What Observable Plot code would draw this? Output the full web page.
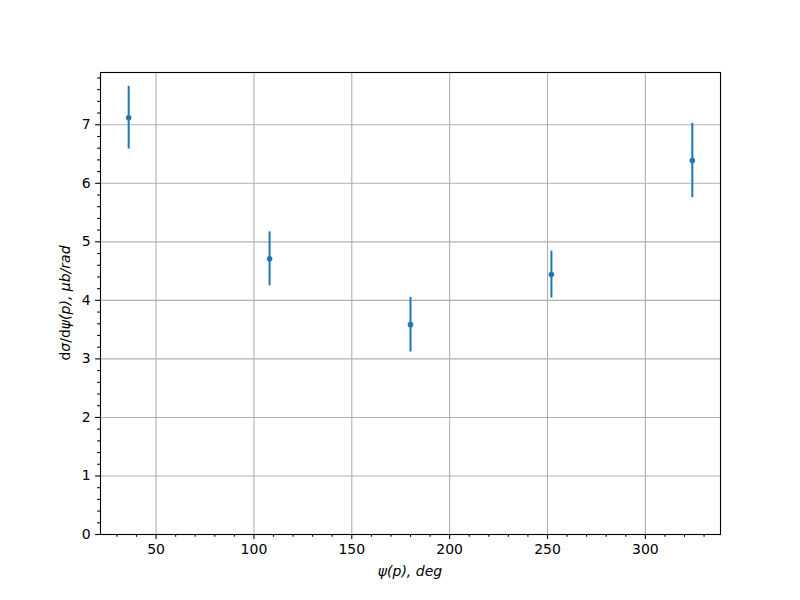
<!DOCTYPE html>
<html>
<head>
<meta charset="utf-8">
<script src="https://cdn.jsdelivr.net/npm/d3@7"></script>
<script src="https://cdn.jsdelivr.net/npm/@observablehq/plot@0.6"></script>
<style>
  body { margin: 0; background: #fff; }
  svg { font-family: "DejaVu Sans", sans-serif; }
</style>
</head>
<body>
<div id="chart"></div>
<script>
const psi = [36, 108, 180, 252, 324];
const sigma = [7.12, 4.71, 3.585, 4.44, 6.39];
const err = [0.535, 0.46, 0.467, 0.40, 0.635];
const xTicks = [50, 100, 150, 200, 250, 300];
const yTicks = [0, 1, 2, 3, 4, 5, 6, 7];

const data = psi.map((x, i) => ({x, y: sigma[i], lo: sigma[i] - err[i], hi: sigma[i] + err[i]}));
const xMinor = d3.range(30, 340, 10).filter(v => !xTicks.includes(v));
const yMinor = d3.range(0, 7.9, 0.2).map(v => +v.toFixed(1)).filter(v => !yTicks.includes(v));

const blue = "#1f77b4";
const plot = Plot.plot({
  width: 800,
  height: 600,
  marginLeft: 100,
  marginRight: 80,
  marginTop: 72,
  marginBottom: 66,
  style: {fontFamily: "DejaVu Sans, sans-serif", fontSize: "14px", color: "#000", background: "#fff"},
  x: {domain: [21.6, 338.4], label: null},
  y: {domain: [0, 7.893], label: null},
  marks: [
    Plot.gridX(xTicks, {stroke: "#b0b0b0", strokeOpacity: 1, strokeWidth: 1.1}),
    Plot.gridY(yTicks, {stroke: "#b0b0b0", strokeOpacity: 1, strokeWidth: 1.1}),
    Plot.axisX(xTicks, {tickSize: 4.9, tickPadding: 4.9, strokeWidth: 1.1, fontSize: 14, tickFormat: d3.format("d"), label: null}),
    Plot.axisX(xMinor, {tickSize: 2.8, strokeWidth: 1.1, text: null, label: null}),
    Plot.axisY(yTicks, {tickSize: 4.9, tickPadding: 4.9, strokeWidth: 1.1, fontSize: 14, tickFormat: d3.format("d"), label: null}),
    Plot.axisY(yMinor, {tickSize: 2.8, strokeWidth: 1.1, text: null, label: null}),
    Plot.ruleX(data, {x: "x", y1: "lo", y2: "hi", stroke: blue, strokeWidth: 2}),
    Plot.dot(data, {x: "x", y: "y", r: 2.8, fill: blue, stroke: "none"}),
    Plot.frame({stroke: "#000", strokeWidth: 1.1})
  ]
});
document.getElementById("chart").appendChild(plot);

const svg = d3.select(plot);
svg.append("text")
  .attr("x", 410).attr("y", 576)
  .attr("text-anchor", "middle")
  .attr("font-size", 14)
  .attr("font-family", "DejaVu Sans, sans-serif")
  .attr("font-style", "italic")
  .text("ψ(p), deg");

const yl = svg.append("text")
  .attr("transform", "translate(70,303) rotate(-90)")
  .attr("text-anchor", "middle")
  .attr("font-size", 14)
  .attr("font-family", "DejaVu Sans, sans-serif");
yl.append("tspan").text("d");
yl.append("tspan").attr("font-style", "italic").text("σ");
yl.append("tspan").text("/d");
yl.append("tspan").attr("font-style", "italic").text("ψ(p), μb/rad");
</script>
</body>
</html>
